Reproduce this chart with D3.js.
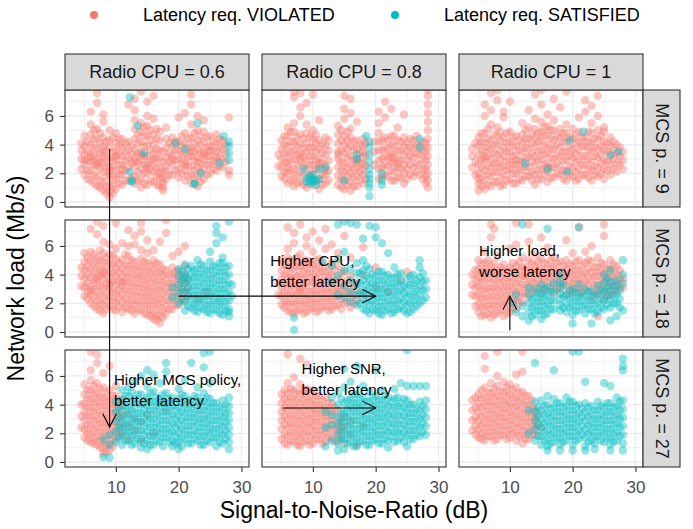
<!DOCTYPE html>
<html>
<head>
<meta charset="utf-8">
<script src="https://cdn.jsdelivr.net/npm/d3@7"></script>
<style>
  body { margin: 0; background: #fff; }
  text { font-family: "Liberation Sans", Arial, sans-serif; }
</style>
</head>
<body>
<script>
// facet levels and labels
var cpuLevels = [0.6, 0.8, 1];
var mcsLevels = [9, 18, 27];
var classNames = ['Latency req. VIOLATED', 'Latency req. SATISFIED'];
var classColors = ['#F8766D', '#00BFC4'];
var xTicks = [10, 20, 30], xMinor = [5, 15, 25];
var yTicks = [0, 2, 4, 6], yMinor = [1, 3, 5, 7];

// points, grouped as [SNR, [loads at that SNR]]
var violated_cpu06_mcs9 = [
  [4.5, [2.3, 3.0, 3.6, 4.1]], [5, [1.9, 2.6, 3.3, 3.9, 4.6, 2.9]],
  [6, [1.5, 2.2, 2.8, 3.4, 4.0, 4.7, 5.4, 6.3, 3.1]], [7, [1.1, 1.8, 2.5, 3.0, 3.7, 4.4, 5.1, 6.9, 7.6, 2.7]],
  [8, [0.8, 1.4, 2.1, 2.7, 3.2, 3.9, 4.5, 5.6, 6.1, 3.5]], [9, [0.3, 0.7, 1.2, 1.9, 2.5, 3.1, 3.8, 4.3, 5.0, 2.2]],
  [10, [0.9, 1.6, 2.2, 2.9, 3.5, 4.1, 4.8, 3.2]], [11, [1.2, 1.9, 2.6, 3.2, 3.8, 4.4, 2.3]],
  [12, [1.5, 2.4, 3.0, 3.6, 4.2, 6.8]], [13, [1.3, 1.8, 2.5, 3.1, 3.7, 4.4, 5.1, 5.7, 6.4, 7.2, 2.8]],
  [14, [1.0, 1.6, 2.3, 2.9, 3.5, 4.2, 4.9, 5.5, 7.7, 3.3]], [15, [1.2, 2.0, 2.6, 3.2, 3.9, 4.6, 5.3, 6.0, 7.0, 2.4]],
  [16, [1.4, 2.1, 2.7, 3.4, 4.0, 4.7, 5.8, 7.4, 3.0]], [17, [1.1, 1.7, 2.4, 3.0, 3.6, 4.3, 4.9, 2.0]],
  [17.5, [0.8, 1.0, 1.3, 1.6, 2.1, 2.8, 3.5]], [18, [1.6, 2.5, 3.1, 3.8, 4.4, 5.2, 2.2]],
  [19, [1.9, 2.6, 3.3, 3.9, 4.5, 3.0]], [20, [1.7, 2.3, 3.0, 3.6, 4.2, 5.9]],
  [21, [1.5, 2.2, 2.8, 3.4, 4.1, 4.8, 6.2, 2.6]], [22, [1.3, 1.9, 2.5, 3.2, 3.8, 4.5, 5.4, 6.8, 7.5, 3.5]],
  [23, [1.1, 1.8, 2.4, 3.1, 3.7, 4.3, 5.0, 6.0, 2.8]], [24, [1.6, 2.3, 2.9, 3.5, 4.2, 4.9, 5.7, 3.3]],
  [25, [2.0, 2.6, 3.2, 3.9, 4.6, 3.6]], [26, [2.2, 2.8, 3.5, 4.1, 4.7, 3.1]],
  [27, [2.4, 3.0, 3.7, 4.3]], [28, [1.9, 2.2, 5.9]],
  [5.5, [2.2, 2.9, 3.5, 4.2, 1.6]], [6.5, [1.3, 1.9, 2.6, 3.2, 3.8, 4.4, 5.0]], [7.5, [1.0, 1.5, 2.3, 2.8, 3.4, 4.1, 4.8]],
  [8.5, [0.6, 1.1, 1.8, 2.4, 3.0, 3.6, 4.2]], [9.5, [0.6, 1.1, 1.7, 2.4, 2.9, 3.5, 4.5]], [10.5, [1.3, 1.9, 2.6, 3.3, 3.9, 4.4]],
  [11.5, [1.5, 2.2, 2.9, 3.5, 4.1]], [12.5, [1.7, 2.7, 3.3, 3.9]], [13.5, [1.5, 2.1, 2.8, 3.4, 4.1, 4.7]],
  [14.5, [1.3, 2.0, 2.6, 3.2, 3.9, 4.6, 5.2]], [15.5, [1.5, 2.3, 2.9, 3.6, 4.3, 5.0]], [16.5, [1.2, 1.8, 2.4, 3.1, 3.7, 4.4, 5.1]],
  [18.5, [1.9, 2.8, 3.4, 4.1]], [19.5, [2.2, 2.9, 3.6, 4.2]], [20.5, [2.0, 2.7, 3.3, 3.9, 4.6]],
  [21.5, [1.8, 2.5, 3.1, 3.7, 4.4]], [22.5, [1.6, 2.2, 2.9, 3.5, 4.1, 4.8]], [23.5, [1.4, 2.1, 2.7, 3.4, 4.0, 4.6]],
  [24.5, [1.9, 2.6, 3.2, 3.8, 4.5]], [25.5, [2.3, 2.9, 3.6, 4.2]], [26.5, [2.5, 3.2, 3.8, 4.4]], [27.5, [2.8, 3.4, 4.0]]
];
var satisfied_cpu06_mcs9 = [
  [12.2, [7.3, 2.1]], [12.5, [1.5, 1.4]], [13.5, [5.3]], [14.5, [3.4]], [19.5, [4.1]],
  [21, [3.7]], [22.5, [1.3, 1.25]], [23, [5.5]], [23.5, [2.0]], [26.5, [2.7]],
  [27.2, [4.6]], [28, [4.2, 3.9, 3.4, 2.9]]
];
var violated_cpu08_mcs9 = [
  [4.5, [2.5, 3.3]], [5, [1.8, 2.4, 3.0, 3.7, 4.3]], [6, [1.3, 2.0, 2.7, 3.3, 3.9, 4.6, 5.2, 2.4]],
  [7, [1.1, 1.7, 2.3, 3.0, 3.6, 4.2, 4.9, 5.5, 7.3, 7.7]], [8, [1.4, 2.1, 2.8, 3.4, 4.0, 4.7, 6.0, 6.6, 7.6, 3.1]],
  [9, [1.0, 2.3, 2.9, 3.5, 4.1, 4.8, 5.4, 6.9]], [10, [1.2, 2.0, 2.6, 3.2, 3.8, 4.4, 5.0, 7.5]],
  [11, [0.9, 1.6, 2.4, 3.0, 3.7, 4.3, 5.7, 2.7]], [12, [1.3, 1.9, 2.6, 3.3, 3.9, 4.5, 2.2]],
  [14, [1.2, 1.8, 2.4, 3.0, 3.5, 4.1, 4.7, 5.3, 3.3]], [15, [0.9, 1.5, 2.1, 2.7, 3.4, 4.0, 4.6, 5.8, 6.5, 7.4]],
  [16, [0.8, 1.4, 2.0, 2.6, 3.2, 3.9, 4.5, 5.1, 6.2, 7.2]], [17, [1.1, 1.8, 2.4, 3.0, 3.7, 4.3, 5.6, 2.8]],
  [18, [1.3, 1.9, 2.3, 2.7, 3.1, 3.5, 3.9, 4.4]], [19.8, [2.6, 3.5, 4.2]], [20.5, [1.6, 2.3, 2.9, 3.6, 4.2, 4.8, 5.5, 6.3]],
  [21.5, [1.9, 2.6, 3.2, 3.8, 4.5, 5.9, 7.0]], [22.5, [1.5, 2.2, 2.8, 3.4, 4.0, 4.6, 6.5, 3.1]],
  [23.5, [1.7, 2.4, 3.0, 3.6, 4.3, 5.2, 2.7]], [24.5, [1.3, 2.0, 2.6, 3.3, 3.9, 4.5, 6.1]],
  [25.5, [1.9, 2.6, 3.2, 3.8, 4.4]], [26.5, [2.1, 2.7, 3.4, 4.0, 4.6]], [27.5, [1.6, 2.3, 3.0, 3.6, 4.2]],
  [28.3, [1.0, 1.5, 2.0, 2.6, 3.2, 3.8, 4.4, 5.0, 5.6, 6.2, 6.8, 7.4, 7.8]],
  [5.5, [1.6, 2.1, 2.8, 3.4, 4.0, 4.6]], [6.5, [1.5, 2.2, 2.9, 3.5, 4.2, 4.9]], [7.5, [1.3, 1.9, 2.6, 3.3, 3.9, 4.5]],
  [8.5, [1.2, 1.8, 2.5, 3.1, 3.7, 4.4]], [9.5, [1.9, 2.6, 3.2, 3.8, 4.5]], [10.5, [1.5, 2.3, 2.9, 3.5, 4.1, 4.7]],
  [11.5, [1.2, 1.9, 2.7, 3.4, 4.0]], [12.5, [1.5, 2.2, 2.9, 3.6, 4.3]], [14.5, [1.0, 1.6, 2.2, 2.8, 3.6, 4.3, 5.0]],
  [15.5, [1.2, 1.8, 2.4, 3.1, 3.7, 4.3, 4.9]], [16.5, [1.1, 1.7, 2.3, 2.9, 3.6, 4.2]], [17.5, [1.5, 2.1, 2.7, 3.4, 4.0]],
  [18.4, [1.6, 2.5, 3.3, 4.1]], [21, [1.7, 2.4, 3.0, 3.6, 4.3]],
  [22, [1.8, 2.5, 3.1, 3.7, 4.3]], [23, [1.5, 2.1, 2.7, 3.3, 3.9, 4.6]], [24, [1.7, 2.3, 2.9, 3.6, 4.2]],
  [25, [1.6, 2.3, 2.9, 3.5, 4.1]], [26, [1.8, 2.4, 3.1, 3.7, 4.3]], [27, [1.9, 2.6, 3.3, 3.9]],
  [28, [1.3, 1.8, 2.3, 2.9, 3.5, 4.1]]
];
var satisfied_cpu08_mcs9 = [
  [8.5, [2.3]], [9, [1.4, 1.7]], [9.5, [1.5, 1.3, 1.8]], [10, [1.6, 1.4, 1.9]], [10.5, [1.5, 1.2]],
  [11, [2.3, 1.6]], [12, [2.4]], [15, [1.5]], [17, [3.3, 3.0]], [18.5, [4.6]],
  [19, [0.4, 1.0, 1.3, 1.6, 1.9, 2.3, 2.8, 3.3, 3.8, 4.2]], [21, [1.2, 1.5, 2.0]], [27, [3.8, 4.4]]
];
var violated_cpu1_mcs9 = [
  [4, [2.4, 3.2, 3.7]], [4.5, [1.9, 2.8, 4.1]], [5, [0.8, 1.3, 2.0, 2.6, 3.3, 3.9, 4.5, 1.6]],
  [6, [0.9, 1.5, 2.2, 2.9, 3.5, 4.1, 4.8, 6.0, 6.8, 3.1]], [7, [1.1, 1.8, 2.4, 3.0, 3.7, 4.3, 5.4, 6.4, 7.6]],
  [8, [1.4, 2.1, 2.7, 3.3, 4.0, 4.6, 5.2, 7.1, 7.8]], [9, [1.2, 1.9, 2.5, 3.2, 3.8, 4.5, 5.9, 6.3]],
  [10, [1.6, 2.3, 2.9, 3.5, 4.2, 4.9, 7.0]], [11, [1.3, 2.0, 2.6, 3.3, 3.9, 4.6, 2.9]],
  [12, [1.5, 2.2, 2.8, 3.5, 4.1, 4.7, 5.5]], [13, [1.8, 2.4, 3.1, 3.7, 4.4, 5.2, 6.4]],
  [14, [1.2, 1.9, 2.6, 3.2, 3.9, 4.5, 5.1, 5.8, 7.5]], [15, [1.6, 2.3, 3.0, 3.6, 4.3, 4.9, 5.6, 6.8, 7.8]],
  [16, [1.4, 2.1, 2.7, 3.4, 4.0, 4.7, 5.3, 6.1, 2.4]], [17, [1.7, 2.4, 3.0, 3.7, 4.3, 5.0, 5.7, 7.2]],
  [18, [1.9, 2.5, 3.2, 3.8, 4.5, 5.1, 6.6]], [19, [1.5, 2.2, 2.9, 3.5, 4.2, 4.8, 5.4, 7.7]],
  [20, [1.8, 2.4, 3.1, 3.7, 4.4, 5.1]], [21, [1.6, 2.3, 2.9, 3.6, 4.2, 4.9, 5.9]],
  [22, [1.9, 2.6, 3.2, 3.9, 4.5, 6.3, 7.1]], [23, [1.5, 2.2, 2.8, 3.5, 4.1, 4.8, 5.5, 6.7]],
  [24, [1.8, 2.4, 3.1, 3.7, 4.4, 5.0, 6.0, 7.4]], [25, [1.6, 2.3, 2.9, 3.6, 4.2, 4.9, 5.2]],
  [26, [1.9, 2.6, 3.2, 3.9, 4.5]], [27, [2.1, 2.7, 3.4, 4.0]], [28, [2.3, 2.9, 3.5]],
  [5.5, [1.1, 1.7, 2.4, 3.0, 3.6, 4.2, 4.8]], [6.5, [1.2, 1.9, 2.5, 3.2, 3.8, 4.4, 5.1]], [7.5, [1.4, 2.1, 2.7, 3.4, 4.0, 4.7]],
  [8.5, [1.1, 1.7, 2.4, 3.0, 3.6, 4.3, 4.9]], [9.5, [1.5, 2.2, 2.8, 3.5, 4.1, 4.8]], [10.5, [1.3, 2.0, 2.6, 3.2, 3.9, 4.5]],
  [11.5, [1.6, 2.3, 2.9, 3.6, 4.3]], [12.5, [1.8, 2.5, 3.1, 3.8, 4.4, 5.0]], [13.5, [1.5, 2.1, 2.8, 3.4, 4.1, 4.7]],
  [14.5, [1.6, 2.2, 2.9, 3.5, 4.2, 4.8]], [15.5, [1.9, 2.6, 3.3, 3.9, 4.6, 5.2]], [16.5, [1.7, 2.4, 3.1, 3.7, 4.4, 5.0]],
  [17.5, [2.0, 2.7, 3.3, 4.0, 4.6]], [18.5, [1.6, 2.2, 2.9, 3.5, 4.2, 4.8]], [19.5, [1.9, 2.5, 3.2, 3.8, 4.5]],
  [20.5, [1.5, 2.1, 2.8, 3.4, 4.1, 4.7]], [21.5, [1.9, 2.6, 3.2, 3.9, 4.5]], [22.5, [1.7, 2.3, 3.0, 3.6, 4.2, 4.9]],
  [23.5, [1.9, 2.5, 3.2, 3.8, 4.4]], [24.5, [2.0, 2.7, 3.3, 3.9, 4.6]], [25.5, [2.2, 2.8, 3.5, 4.1]],
  [26.5, [2.3, 3.0, 3.6, 4.2]], [27.5, [2.6, 3.2, 3.8]]
];
var satisfied_cpu1_mcs9 = [
  [12.4, [2.7]], [16, [2.3]], [19.1, [2.1]], [19.5, [4.3]], [21.7, [4.9]], [26, [3.3]], [27.3, [3.5]]
];
var violated_cpu06_mcs18 = [
  [4.5, [3.2, 3.9, 4.5]], [5, [2.5, 3.1, 3.7, 4.3, 4.9, 5.5]], [6, [2.0, 2.6, 3.2, 3.8, 4.4, 5.0, 5.6, 7.2, 2.9]],
  [7, [1.6, 2.2, 2.8, 3.4, 4.0, 4.6, 5.2, 6.8, 7.7, 3.7]], [8, [1.3, 1.9, 2.5, 3.1, 3.7, 4.3, 4.9, 5.5, 6.3, 7.4, 4.1]],
  [9, [1.8, 2.4, 3.0, 3.6, 4.2, 4.8, 5.4, 6.1, 3.3]], [10, [1.5, 2.1, 2.7, 3.3, 3.9, 4.5, 5.1, 5.8, 7.6]],
  [11, [1.4, 2.0, 2.6, 3.2, 3.8, 4.4, 5.0, 6.2, 3.5]], [12, [1.6, 2.2, 2.8, 3.4, 4.0, 4.6, 5.3, 6.0, 7.1]],
  [13, [1.3, 1.9, 2.5, 3.1, 3.7, 4.3, 4.9, 6.1, 6.7]], [14, [1.5, 2.1, 2.7, 3.3, 3.9, 4.5, 5.1, 5.7, 7.0, 7.6]],
  [15, [1.2, 1.8, 2.4, 3.0, 3.6, 4.2, 4.8, 5.5, 6.4]], [16, [0.9, 1.4, 2.0, 2.6, 3.2, 3.8, 4.4, 5.0, 5.7]],
  [17, [0.6, 1.1, 1.7, 2.3, 2.9, 3.5, 4.1, 4.7, 6.3]], [18, [1.3, 1.9, 2.5, 3.1, 3.7, 4.3, 6.9, 7.8]],
  [19, [1.6, 2.2, 2.8, 3.4, 4.0, 4.5, 5.3]], [20, [1.9, 2.5, 3.1, 3.7, 4.3, 5.6]],
  [21, [2.2, 2.8, 3.4, 4.0, 4.6, 6.0]], [21.5, [2.5, 3.0, 3.6]], [23, [2.3]], [24.5, [2.8]],
  [5.5, [2.3, 2.8, 3.4, 4.0, 4.6, 5.2]], [6.5, [1.8, 2.4, 3.0, 3.6, 4.2, 4.8, 5.4]], [7.5, [1.5, 2.0, 2.6, 3.2, 3.9, 4.4, 5.0, 5.7]],
  [8.5, [1.6, 2.2, 2.8, 3.4, 4.0, 4.6, 5.2]], [9.5, [1.6, 2.2, 2.8, 3.5, 4.1, 4.7, 5.3]], [10.5, [1.8, 2.4, 3.0, 3.6, 4.2, 4.8]],
  [11.5, [1.7, 2.3, 2.9, 3.5, 4.1, 4.7, 5.4]], [12.5, [1.5, 2.0, 2.6, 3.2, 3.8, 4.4, 5.0]], [13.5, [1.6, 2.2, 2.8, 3.4, 4.0, 4.6]],
  [14.5, [1.3, 1.9, 2.5, 3.1, 3.7, 4.3, 4.9]], [15.5, [1.1, 1.6, 2.2, 2.8, 3.4, 4.0, 4.6]], [16.5, [0.8, 1.2, 1.9, 2.4, 3.0, 3.6, 4.2, 4.8]],
  [17.5, [1.0, 1.5, 2.1, 2.7, 3.3, 3.9, 4.4]], [18.5, [1.6, 2.2, 2.8, 3.4, 4.0]], [19.5, [1.9, 2.5, 3.1, 3.7, 4.2]],
  [20.5, [2.2, 2.8, 3.4, 3.9]]
];
var satisfied_cpu06_mcs18 = [
  [19, [3.1, 2.4]], [20, [2.0, 2.7, 3.3, 3.9, 4.4]], [21, [1.5, 2.1, 2.8, 3.4, 4.0, 4.7, 3.8]],
  [22, [1.7, 2.3, 2.9, 3.5, 4.1, 4.6]], [23, [1.4, 2.0, 2.6, 3.2, 3.8, 4.4, 5.0]],
  [24, [1.6, 2.2, 2.8, 3.4, 4.0, 4.6]], [25, [1.3, 1.9, 2.5, 3.1, 3.7, 4.3, 4.9, 5.6]],
  [26, [1.5, 2.1, 2.7, 3.3, 3.9, 4.5, 6.2, 7.4, 6.9]], [27, [1.2, 1.8, 2.4, 3.0, 3.6, 4.2, 4.8, 5.2, 6.6]],
  [28, [1.1, 1.6, 2.2, 2.8, 3.4, 4.0, 4.6, 1.4, 7.7]], [28.5, [2.5, 3.3]],
  [20.5, [2.3, 3.0, 3.6, 4.2]], [21.5, [1.8, 2.5, 3.1, 3.7, 4.4]], [22.5, [1.5, 2.0, 2.6, 3.2, 3.8, 4.3]],
  [23.5, [1.7, 2.3, 2.9, 3.5, 4.1, 4.7]], [24.5, [1.4, 1.9, 2.5, 3.1, 3.7, 4.3]], [25.5, [1.6, 2.2, 2.8, 3.4, 4.0, 4.6]],
  [26.5, [1.3, 1.9, 2.4, 3.0, 3.6, 4.2, 4.8]], [27.5, [1.5, 2.1, 2.7, 3.3, 3.9, 4.5]]
];
var violated_cpu08_mcs18 = [
  [4.5, [2.6, 3.4]], [5, [1.9, 2.5, 3.1, 3.7, 4.3, 5.0]], [6, [1.5, 2.1, 2.7, 3.3, 3.9, 4.5, 5.2, 5.8, 7.3]],
  [7, [1.3, 1.9, 2.5, 3.1, 3.7, 4.3, 4.9, 6.2, 6.9]], [8, [1.6, 2.2, 2.8, 3.4, 4.0, 4.6, 5.4, 7.5, 3.0]],
  [9, [1.4, 2.0, 2.6, 3.2, 3.8, 4.4, 5.0, 6.0, 6.6]], [10, [1.7, 2.3, 2.9, 3.5, 4.1, 4.7, 5.6, 7.0]],
  [11, [1.5, 2.1, 2.7, 3.3, 3.9, 4.5, 5.1, 6.4]], [12, [1.8, 2.4, 3.0, 3.6, 4.2, 5.8, 7.2]],
  [13, [1.6, 2.2, 2.8, 3.4, 4.0, 4.8, 6.1]], [14, [1.9, 2.5, 3.1, 3.7, 4.6, 5.5]],
  [15, [2.0, 2.7, 3.3, 4.2, 6.7]], [16, [1.7, 2.4, 3.0, 3.9, 5.2]], [17, [2.2, 2.9, 3.5]],
  [18, [2.6, 4.0, 5.9]], [20, [3.1, 4.5]], [22, [2.8]], [24, [3.6]], [25, [4.2]],
  [5.5, [1.7, 2.2, 2.8, 3.4, 4.0, 4.7]], [6.5, [1.4, 2.0, 2.6, 3.2, 3.8, 4.4, 5.0]], [7.5, [1.5, 2.1, 2.7, 3.3, 3.9, 4.6, 5.2]],
  [8.5, [1.3, 1.9, 2.5, 3.1, 3.7, 4.3, 4.9]], [9.5, [1.6, 2.2, 2.8, 3.5, 4.1, 4.7]], [10.5, [1.4, 2.0, 2.6, 3.2, 3.8, 4.4, 5.0]],
  [11.5, [1.7, 2.3, 2.9, 3.5, 4.2, 4.8]], [12.5, [1.5, 2.1, 2.7, 3.3, 3.9, 4.5]], [13.5, [1.8, 2.4, 3.0, 3.6, 4.3]],
  [14.5, [1.6, 2.3, 2.9, 3.5, 4.1]], [15.5, [2.1, 2.8, 3.6]], [16.5, [2.0, 2.6, 3.3]]
];
var satisfied_cpu08_mcs18 = [
  [7, [0.15, 1.0]], [11.5, [4.9]], [13, [3.5, 4.6]], [14, [2.6, 3.9, 5.1, 7.5]], [15, [2.4, 3.2, 4.3, 5.6, 7.7]],
  [16, [2.1, 2.8, 3.6, 4.4, 7.6]], [17, [1.9, 2.6, 3.3, 4.1, 4.8, 7.5]], [18, [1.6, 2.3, 2.9, 3.6, 4.3, 5.0, 6.5]],
  [19, [1.3, 1.9, 2.5, 3.1, 3.7, 4.4, 7.4]], [20, [1.5, 2.1, 2.7, 3.3, 3.9, 6.6, 7.3]],
  [21, [1.2, 1.8, 2.4, 3.0, 3.6, 4.2, 6.2]], [22, [1.6, 2.2, 2.8, 3.4, 4.0, 5.5]],
  [23, [1.4, 2.0, 2.6, 3.2, 3.8, 4.5]], [24, [1.7, 2.3, 2.9, 3.5, 4.1]], [25, [1.3, 1.9, 2.5, 3.1, 3.7]],
  [26, [1.6, 2.2, 2.8, 3.4, 4.0]], [27, [2.0, 2.6, 3.2, 3.8, 4.5, 5.0]], [28, [2.4, 3.0, 3.6]],
  [17.5, [2.0, 2.7, 3.4, 4.1]], [18.5, [1.5, 2.1, 2.7, 3.3, 3.9, 4.6]], [19.5, [1.6, 2.2, 2.8, 3.4, 4.0]],
  [20.5, [1.3, 1.8, 2.4, 3.0, 3.6, 4.2]], [21.5, [1.5, 2.1, 2.7, 3.3, 3.9]], [22.5, [1.3, 1.9, 2.5, 3.1, 3.7]],
  [23.5, [1.6, 2.2, 2.8, 3.4, 4.0]], [24.5, [1.5, 2.1, 2.7, 3.2]], [25.5, [1.4, 2.0, 2.6, 3.3, 3.9]],
  [26.5, [1.8, 2.4, 3.0, 3.6]], [27.5, [2.2, 2.9, 3.5, 4.1]]
];
var violated_cpu1_mcs18 = [
  [4, [2.6, 3.3, 4.0]], [5, [1.4, 2.0, 2.6, 3.2, 3.8, 4.4, 5.0]], [6, [1.2, 1.8, 2.4, 3.0, 3.6, 4.2, 4.8, 5.6]],
  [7, [1.0, 1.6, 2.2, 2.8, 3.4, 4.0, 4.6, 6.6, 7.5]], [7.5, [7.2]], [8, [1.3, 1.9, 2.5, 3.1, 3.7, 4.3, 5.3]],
  [9, [1.1, 1.7, 2.3, 2.9, 3.5, 4.1, 4.7]], [10, [1.4, 2.0, 2.6, 3.2, 3.8, 4.5, 5.8]],
  [11, [1.6, 2.2, 2.8, 3.4, 4.0, 4.6, 7.6, 6.1]], [12, [2.1, 2.7, 3.3, 3.9, 4.5, 5.2]],
  [13, [2.5, 3.1, 3.7, 4.3, 5.0, 7.5, 6.3]], [14, [2.8, 3.4, 4.0, 4.6, 5.4]], [15, [2.6, 3.2, 3.8, 4.4, 5.1, 6.6]],
  [16, [2.9, 3.5, 4.1, 4.7, 5.9]], [17, [2.7, 3.3, 3.9, 4.5, 5.2]], [18, [3.0, 3.6, 4.2, 4.9]],
  [19, [2.6, 3.2, 3.8, 4.4, 5.0, 6.4]], [20, [2.8, 3.4, 4.0, 4.6, 5.5]], [21, [2.5, 3.1, 3.7, 4.3, 5.0, 7.3]],
  [22, [2.9, 3.5, 4.1, 4.8, 5.6]], [23, [2.4, 3.0, 3.6, 4.2, 4.9, 6.0]], [24, [1.1, 2.7, 3.3, 3.9, 4.5, 5.2]],
  [25, [2.3, 2.9, 3.5, 4.1, 4.7, 7.5, 6.7]], [26, [2.6, 3.2, 3.8, 4.4, 5.0]], [27, [2.8, 3.4, 4.0, 4.6]],
  [28, [3.1, 3.7]],
  [4.5, [1.8, 2.5, 3.1, 3.7, 4.3]], [5.5, [1.1, 1.7, 2.3, 2.9, 3.5, 4.1, 4.7]], [6.5, [1.3, 1.9, 2.5, 3.1, 3.8, 4.4, 5.0]],
  [7.5, [1.2, 1.8, 2.4, 3.0, 3.6, 4.2, 4.8]], [8.5, [1.5, 2.1, 2.7, 3.3, 3.9, 4.5]], [9.5, [1.3, 1.9, 2.5, 3.1, 3.7, 4.3]],
  [10.5, [1.7, 2.3, 2.9, 3.5, 4.2, 4.8]], [11.5, [2.0, 2.5, 3.1, 3.7, 4.3, 4.9]], [12.5, [2.7, 3.3, 3.9, 4.5]],
  [13.5, [2.9, 3.5, 4.2, 4.8]], [14.5, [3.1, 3.7, 4.3, 4.9]], [15.5, [3.0, 3.6, 4.2, 4.8]],
  [16.5, [3.2, 3.8, 4.4, 5.0]], [17.5, [3.0, 3.6, 4.2, 4.8]], [18.5, [3.4, 4.0, 4.6]],
  [19.5, [2.9, 3.5, 4.1, 4.7]], [20.5, [3.1, 3.7, 4.3, 4.9]], [21.5, [2.8, 3.4, 4.0, 4.6]],
  [22.5, [3.2, 3.8, 4.4, 5.0]], [23.5, [2.7, 3.3, 3.9, 4.5]], [24.5, [3.0, 3.6, 4.2, 4.8]],
  [25.5, [2.6, 3.2, 3.8, 4.4]], [26.5, [2.9, 3.5, 4.1, 4.7]], [27.5, [3.1, 3.7, 4.3]]
];
var satisfied_cpu1_mcs18 = [
  [10.5, [2.0]], [11, [2.6, 1.4]], [12, [1.1, 1.8, 7.5]], [13, [0.8, 1.4, 2.0, 2.6, 3.1]], [14, [1.2, 1.8, 2.4, 3.0]],
  [15, [0.9, 1.5, 2.1, 2.7, 3.3]], [16, [1.3, 1.9, 2.5, 3.1, 7.2]], [17, [1.6, 2.2, 2.8, 3.4]],
  [18, [1.5, 1.9, 2.3, 2.7, 3.1, 3.5, 4.0]], [18.5, [1.7, 2.5, 3.3]], [19, [1.4, 2.0, 2.6]],
  [20, [1.2, 1.8, 2.4, 3.0, 0.6]], [21, [1.5, 2.1, 2.7, 3.3, 7.3]], [22, [1.3, 1.9, 2.5, 3.0]],
  [23, [1.6, 2.2, 2.8, 0.6]], [24, [1.4, 2.0, 2.6, 3.2]], [25, [1.6, 2.2, 2.8, 3.4, 4.0]],
  [25.5, [1.9, 2.5, 3.1, 3.7]], [26, [1.7, 2.3, 2.9, 3.5, 4.3, 0.8]], [27, [2.0, 2.6, 3.2, 3.6, 1.1]],
  [28, [1.5, 4.0, 5.0, 3.4]],
  [13.5, [1.1, 1.7, 2.3]], [14.5, [1.5, 2.1, 2.7]], [15.5, [1.2, 1.8, 2.4, 3.0]], [16.5, [1.6, 2.2, 2.8]],
  [19.5, [1.7, 2.3, 2.9]], [20.5, [1.5, 2.1, 2.7]], [21.5, [1.8, 2.4]], [22.5, [1.6, 2.2, 2.8]],
  [23.5, [1.3, 1.9, 2.5]], [24.5, [1.7, 2.3, 2.9]], [26.5, [2.0, 2.6, 3.2]], [27.5, [1.7, 2.3, 2.9]]
];
var violated_cpu06_mcs27 = [
  [4.5, [2.4, 3.2, 4.0]], [5, [1.7, 2.3, 2.9, 3.5, 4.1, 4.7, 5.4]], [6, [1.4, 2.0, 2.6, 3.2, 3.8, 4.4, 5.0, 5.7, 7.7, 6.4]],
  [7, [1.2, 1.8, 2.4, 3.0, 3.6, 4.2, 4.8, 5.5, 6.9, 7.5]], [8, [0.6, 1.0, 1.5, 2.1, 2.7, 3.3, 3.9, 4.5, 5.2, 6.2]],
  [9, [0.8, 1.3, 1.9, 2.5, 3.1, 3.7, 4.3, 5.0, 6.7]], [10, [1.6, 2.2, 2.8, 3.4, 4.0, 4.6, 5.3]],
  [11, [2.0, 2.6, 3.2, 3.9, 4.4]], [12, [1.6, 2.5, 3.4]], [13, [2.2, 3.0]], [14, [1.4, 2.8]],
  [15, [3.3]], [16, [2.0]], [18, [3.6]],
  [5.5, [1.5, 2.0, 2.6, 3.2, 3.8, 4.4, 5.0]], [6.5, [1.3, 1.7, 2.3, 2.9, 3.5, 4.1, 4.7, 5.3]],
  [7.5, [1.0, 1.5, 2.1, 2.7, 3.3, 3.9, 4.5, 5.1]], [8.5, [0.7, 1.2, 1.8, 2.4, 3.0, 3.6, 4.2, 4.8]],
  [9.5, [1.1, 1.6, 2.2, 2.8, 3.4, 4.0, 4.6]], [10.5, [1.9, 2.5, 3.1, 3.7, 4.3]]
];
var satisfied_cpu06_mcs27 = [
  [8, [0.35, 1.6]], [9, [0.3, 1.2, 1.9]], [10, [1.4, 2.1, 2.8, 3.5, 4.2]], [11, [1.2, 1.8, 2.4, 3.0, 3.6, 4.3, 5.0]],
  [12, [1.5, 2.1, 2.7, 3.3, 3.9, 4.6, 5.2]], [13, [1.3, 1.9, 2.5, 3.1, 3.7, 4.4, 5.6]],
  [14, [1.0, 1.6, 2.2, 2.8, 3.4, 4.0, 4.7, 6.0]], [15, [0.9, 1.5, 2.1, 2.7, 3.3, 3.9, 4.5, 5.3, 6.4]],
  [16, [1.2, 1.8, 2.4, 3.0, 3.6, 4.2, 4.9, 6.1]], [17, [1.4, 2.0, 2.6, 3.2, 3.8, 4.4, 5.5]],
  [18, [1.7, 2.3, 2.9, 3.5, 4.1, 4.8, 6.3, 6.9]], [19, [1.1, 1.5, 2.1, 2.7, 3.3, 3.9, 4.5]],
  [20, [0.9, 1.4, 2.0, 2.6, 3.2, 3.8, 4.4, 5.1]], [21, [1.6, 2.2, 2.8, 3.4, 4.0, 4.6, 5.7]],
  [22, [1.3, 1.9, 2.5, 3.1, 3.7, 4.3, 6.9]], [23, [1.5, 2.1, 2.7, 3.3, 3.9, 4.5, 5.2]],
  [24, [1.2, 1.8, 2.4, 3.0, 3.6, 4.2, 4.8, 7.6, 6.6]], [25, [1.4, 2.0, 2.6, 3.2, 3.8, 4.4, 5.5, 7.7]],
  [26, [1.1, 1.7, 2.3, 2.9, 3.5, 4.1]], [27, [1.3, 1.9, 2.5, 3.1, 3.7, 4.3]],
  [28, [0.9, 1.4, 1.9, 2.4, 2.9, 3.4, 3.9, 4.5]],
  [10.5, [1.7, 2.4, 3.1, 3.8]], [11.5, [1.5, 2.1, 2.7, 3.3, 3.9, 4.6]], [12.5, [1.2, 1.8, 2.4, 3.0, 3.6, 4.2, 4.9]],
  [13.5, [1.6, 2.2, 2.8, 3.4, 4.1, 4.7]], [14.5, [1.3, 1.9, 2.5, 3.1, 3.7, 4.3]], [15.5, [1.2, 1.8, 2.4, 3.0, 3.6, 4.2, 4.8]],
  [16.5, [1.5, 2.1, 2.7, 3.3, 3.9, 4.5]], [17.5, [1.1, 1.7, 2.3, 2.9, 3.5, 4.1, 4.7]], [18.5, [1.4, 2.0, 2.6, 3.2, 3.8, 4.4]],
  [19.5, [1.3, 1.8, 2.4, 3.0, 3.6, 4.2]], [20.5, [1.1, 1.7, 2.3, 2.9, 3.5, 4.1, 4.7]], [21.5, [1.3, 1.9, 2.5, 3.1, 3.7, 4.3]],
  [22.5, [1.6, 2.2, 2.8, 3.4, 4.0, 4.6]], [23.5, [1.2, 1.8, 2.4, 3.0, 3.6, 4.2]], [24.5, [1.5, 2.1, 2.7, 3.3, 3.9, 4.5]],
  [25.5, [1.7, 2.3, 2.9, 3.5, 4.1]], [26.5, [1.4, 2.0, 2.6, 3.2, 3.8]], [27.5, [1.6, 2.2, 2.8, 3.4, 4.0]]
];
var violated_cpu08_mcs27 = [
  [5, [1.6, 2.3, 2.9, 3.5, 4.1, 4.7]], [6, [1.2, 1.8, 2.4, 3.0, 3.6, 4.2, 4.8, 5.5, 7.5]],
  [7, [1.4, 2.0, 2.6, 3.2, 3.8, 4.4, 5.0, 5.9]], [8, [1.1, 1.7, 2.3, 2.9, 3.5, 4.1, 4.7, 5.4, 7.2]],
  [9, [1.5, 2.1, 2.7, 3.3, 3.9, 4.5, 5.1, 6.8]], [10, [1.3, 1.9, 2.5, 3.1, 3.7, 4.3, 5.0]],
  [11, [1.6, 2.2, 2.8, 3.4, 4.0, 4.6]], [12, [1.4, 2.0, 2.6, 3.2, 3.8, 4.5]], [13, [1.7, 2.3, 2.9, 3.5, 4.1]],
  [14, [1.5, 2.1, 2.7, 3.6]], [15, [1.3, 2.4, 3.2]], [16, [1.9, 2.8]], [17, [1.2]], [18, [2.5]],
  [5.5, [1.3, 1.9, 2.6, 3.2, 3.8, 4.4, 5.0]], [6.5, [1.5, 2.1, 2.7, 3.3, 3.9, 4.5, 5.1]], [7.5, [1.2, 1.8, 2.4, 3.0, 3.6, 4.2, 4.8]],
  [8.5, [1.4, 2.0, 2.6, 3.2, 3.8, 4.4, 5.0]], [9.5, [1.2, 1.8, 2.4, 3.0, 3.6, 4.2, 4.8]], [10.5, [1.6, 2.2, 2.8, 3.4, 4.0, 4.6]],
  [11.5, [1.3, 1.9, 2.5, 3.1, 3.7, 4.3]], [12.5, [1.7, 2.3, 2.9, 3.5, 4.1]], [13.5, [1.4, 2.0, 2.6, 3.2, 3.8]],
  [14.5, [1.8, 2.4, 3.0]]
];
var satisfied_cpu08_mcs27 = [
  [12, [1.1, 2.4, 3.5]], [13, [1.5, 2.6, 3.3, 4.5]], [14, [0.8, 1.3, 1.9, 2.5, 3.1, 4.0, 4.8]],
  [15, [0.9, 1.6, 2.2, 2.8, 3.4, 4.1, 5.2, 6.5]], [16, [1.4, 2.0, 2.6, 3.2, 3.8, 4.4, 5.6]],
  [17, [1.1, 1.7, 2.3, 2.9, 3.5, 4.1, 4.7, 6.7]], [18, [1.5, 2.1, 2.7, 3.3, 3.9, 4.5, 5.3]],
  [19, [1.2, 1.8, 2.4, 3.0, 3.6, 4.2, 4.9]], [20, [1.6, 2.2, 2.8, 3.4, 4.0, 4.6, 6.4]],
  [21, [1.3, 1.9, 2.5, 3.1, 3.7, 4.3, 5.0]], [22, [1.0, 1.5, 2.1, 2.7, 3.3, 3.9, 4.5]],
  [23, [1.4, 2.0, 2.6, 3.2, 3.8, 4.4, 5.1]], [24, [1.7, 2.3, 2.9, 3.5, 4.1, 5.5]],
  [25, [1.1, 1.9, 2.5, 3.1, 3.7, 4.3, 5.3, 7.8]], [26, [1.6, 2.2, 2.8, 3.4, 4.0, 5.3]],
  [27, [1.8, 2.4, 3.0, 3.6, 4.2, 5.3]], [28, [1.9, 2.5, 3.1, 3.7, 4.3, 5.3]],
  [14.5, [1.6, 2.2, 2.8, 3.4, 4.4]], [15.5, [1.3, 1.9, 2.5, 3.1, 3.7, 4.3]], [16.5, [1.1, 1.7, 2.3, 2.9, 3.5, 4.1, 4.7]],
  [17.5, [1.4, 2.0, 2.6, 3.2, 3.8, 4.4]], [18.5, [1.2, 1.8, 2.4, 3.0, 3.6, 4.2]], [19.5, [1.5, 2.1, 2.7, 3.3, 3.9, 4.5]],
  [20.5, [1.3, 1.9, 2.5, 3.1, 3.7, 4.3]], [21.5, [1.6, 2.2, 2.8, 3.4, 4.0, 4.6]], [22.5, [1.8, 2.4, 3.0, 3.6, 4.2]],
  [23.5, [1.5, 2.1, 2.7, 3.3, 3.9, 4.5]], [24.5, [1.4, 2.0, 2.6, 3.2, 3.8, 4.4]], [25.5, [1.6, 2.2, 2.8, 3.4, 4.0]],
  [26.5, [1.9, 2.5, 3.1, 3.7]], [27.5, [2.1, 2.7, 3.3, 3.9]]
];
var violated_cpu1_mcs27 = [
  [4, [2.2, 2.9, 3.6, 4.3]], [5, [1.7, 2.3, 2.9, 3.5, 4.1, 4.7]], [6, [1.5, 2.1, 2.7, 3.3, 3.9, 4.5, 5.2, 6.5, 7.4]],
  [7, [1.8, 2.4, 3.0, 3.6, 4.2, 4.8, 5.5]], [8, [1.6, 2.2, 2.8, 3.4, 4.0, 4.6, 5.3, 6.0, 7.7]],
  [9, [1.9, 2.5, 3.1, 3.7, 4.3, 4.9, 5.6]], [10, [1.7, 2.3, 2.9, 3.5, 4.1, 4.7, 5.4]],
  [11, [1.5, 2.1, 2.7, 3.3, 3.9, 4.5, 5.2, 6.1]], [12, [1.3, 1.9, 2.5, 3.1, 3.7, 4.3, 4.9, 7.7, 6.3]],
  [13, [1.6, 2.2, 2.8, 3.4, 4.0, 4.6]], [14, [1.9, 2.5, 3.1, 3.7]], [15, [2.4]],
  [4.5, [1.9, 2.5, 3.1, 3.8, 4.5]], [5.5, [1.6, 2.0, 2.6, 3.2, 3.8, 4.4, 5.0]], [6.5, [1.8, 2.4, 3.0, 3.6, 4.2, 4.8]],
  [7.5, [1.5, 2.1, 2.7, 3.3, 3.9, 4.5, 5.1]], [8.5, [1.9, 2.5, 3.1, 3.7, 4.3, 4.9]], [9.5, [1.6, 2.2, 2.8, 3.4, 4.0, 4.6, 5.2]],
  [10.5, [2.0, 2.6, 3.2, 3.8, 4.4, 5.0]], [11.5, [1.8, 2.4, 3.0, 3.6, 4.2, 4.8]], [12.5, [1.6, 2.2, 2.8, 3.4, 4.0, 4.6]],
  [13.5, [1.9, 2.5, 3.1, 3.7, 4.3]], [14.3, [2.2, 2.8, 3.4]]
];
var satisfied_cpu1_mcs27 = [
  [13, [2.0, 3.6]], [14, [1.5, 2.3, 2.9, 3.5, 4.2, 6.9]], [15, [1.2, 1.8, 2.4, 3.0, 3.6, 4.3]],
  [16, [0.8, 1.1, 1.6, 2.2, 2.8, 3.4, 4.0, 4.6]], [17, [1.4, 2.0, 2.6, 3.2, 3.8, 4.4, 6.4]],
  [18, [0.8, 1.2, 1.7, 2.3, 2.9, 3.5, 4.1]], [19, [1.5, 2.1, 2.7, 3.3, 3.9, 4.5]],
  [20, [0.8, 1.2, 1.8, 2.4, 3.0, 3.6, 4.2, 7.7]], [21, [1.6, 2.2, 2.8, 3.4, 4.0, 7.7]],
  [22, [0.8, 1.1, 1.7, 2.3, 2.9, 3.5, 4.1, 5.6]], [23, [1.5, 2.1, 2.7, 3.3, 3.9]], [23.5, [0.9, 1.3, 1.8, 2.4, 3.0, 3.6]],
  [24, [1.8, 2.4, 3.0, 3.6, 4.2]], [25, [1.4, 2.0, 2.6, 3.2, 3.8, 5.5]],
  [26, [0.8, 1.2, 1.7, 2.3, 2.9, 3.5, 4.1, 5.3]], [27, [1.5, 2.1, 2.7, 3.3, 3.9, 4.5]],
  [28, [0.8, 1.3, 1.9, 2.5, 3.1, 3.7, 4.3, 6.4, 6.7, 7.2]],
  [14.5, [1.8, 2.6, 3.2, 3.8]], [15.5, [1.5, 2.1, 2.7, 3.3, 3.9]], [16.5, [1.3, 1.9, 2.5, 3.1, 3.7]],
  [17.5, [1.7, 2.3, 2.9, 3.5, 4.1]], [18.5, [1.4, 2.0, 2.6, 3.2, 3.8]], [19.5, [1.8, 2.4, 3.0, 3.6, 4.2]],
  [20.5, [1.5, 2.1, 2.7, 3.3, 3.9]], [21.5, [1.9, 2.5, 3.1, 3.7]], [22.5, [1.4, 2.0, 2.6, 3.2, 3.8]],
  [24.5, [1.5, 2.1, 2.7, 3.3, 3.9]], [25.5, [1.7, 2.3, 2.9, 3.5, 4.1]], [26.5, [1.4, 2.0, 2.6, 3.2, 3.8]],
  [27.5, [1.8, 2.4, 3.0, 3.6, 4.2]]
];

// rows = MCS policy, columns = radio CPU
var panelData = [
  [[violated_cpu06_mcs9, satisfied_cpu06_mcs9], [violated_cpu08_mcs9, satisfied_cpu08_mcs9], [violated_cpu1_mcs9, satisfied_cpu1_mcs9]],
  [[violated_cpu06_mcs18, satisfied_cpu06_mcs18], [violated_cpu08_mcs18, satisfied_cpu08_mcs18], [violated_cpu1_mcs18, satisfied_cpu1_mcs18]],
  [[violated_cpu06_mcs27, satisfied_cpu06_mcs27], [violated_cpu08_mcs27, satisfied_cpu08_mcs27], [violated_cpu1_mcs27, satisfied_cpu1_mcs27]]
];

// annotations, [row, col, snr, load] in the panel they sit in
var arrows = [
  { from: [0, 0, 9, 3.7], to: [2, 0, 9, 2.44] },
  { from: [1, 0, 20, 2.5], to: [1, 1, 20, 2.5] },
  { from: [1, 2, 10, 0.12], to: [1, 2, 10, 2.5] },
  { from: [2, 1, 5.2, 3.77], to: [2, 1, 20, 3.77] }
];
var notes = [
  { row: 1, col: 1, x: 3.2, y: 4.6, lines: ['Higher CPU,', 'better latency'] },
  { row: 1, col: 2, x: 5.1, y: 5.3, lines: ['Higher load,', 'worse latency'] },
  { row: 2, col: 0, x: 9.7, y: 5.35, lines: ['Higher MCS policy,', 'better latency'] },
  { row: 2, col: 1, x: 8.2, y: 6.15, lines: ['Higher SNR,', 'better latency'] }
];

var svg = d3.select('body').append('svg')
  .attr('width', 693)
  .attr('height', 529);

var panelW = 184, panelH = 117;
var colLeft = [65, 262, 459];
var rowTop = [90, 220, 350];
var stripH = 36, stripW = 37;
var frame = '#333333';

var x = d3.scaleLinear().domain([1.9, 31.2]).range([0, panelW]);
var y = d3.scaleLinear().domain([-0.35, 7.81]).range([panelH, 0]);

function expand(stripes) {
  var pts = [];
  stripes.forEach(function (s) {
    s[1].forEach(function (v) { pts.push({ snr: s[0], load: v }); });
  });
  return pts;
}

// page position of a point given as [row, col, snr, load]
function pagePos(p) {
  return [colLeft[p[1]] + x(p[2]), rowTop[p[0]] + y(p[3])];
}

mcsLevels.forEach(function (mcs, r) {
  cpuLevels.forEach(function (cpu, c) {
    var g = svg.append('g')
      .attr('transform', 'translate(' + colLeft[c] + ',' + rowTop[r] + ')');

    g.append('rect').attr('width', panelW).attr('height', panelH).attr('fill', '#fff');

    // grid, minor first
    g.selectAll('.gx-minor').data(xMinor).enter().append('line')
      .attr('x1', x).attr('x2', x).attr('y1', 0).attr('y2', panelH)
      .attr('stroke', '#EBEBEB').attr('stroke-width', 0.7);
    g.selectAll('.gy-minor').data(yMinor).enter().append('line')
      .attr('y1', y).attr('y2', y).attr('x1', 0).attr('x2', panelW)
      .attr('stroke', '#EBEBEB').attr('stroke-width', 0.7);
    g.selectAll('.gx').data(xTicks).enter().append('line')
      .attr('x1', x).attr('x2', x).attr('y1', 0).attr('y2', panelH)
      .attr('stroke', '#EBEBEB').attr('stroke-width', 1.3);
    g.selectAll('.gy').data(yTicks).enter().append('line')
      .attr('y1', y).attr('y2', y).attr('x1', 0).attr('x2', panelW)
      .attr('stroke', '#EBEBEB').attr('stroke-width', 1.3);

    var clipId = 'clip' + r + c;
    g.append('clipPath').attr('id', clipId)
      .append('rect').attr('width', panelW).attr('height', panelH);
    var pg = g.append('g').attr('clip-path', 'url(#' + clipId + ')');

    panelData[r][c].forEach(function (set, k) {
      pg.selectAll(null)
        .data(expand(set))
        .enter()
        .append('circle')
        .attr('cx', function (d) { return x(d.snr); })
        .attr('cy', function (d) { return y(d.load); })
        .attr('r', 4.2)
        .attr('fill', classColors[k])
        .attr('fill-opacity', 0.42);
    });

    g.append('rect').attr('width', panelW).attr('height', panelH)
      .attr('fill', 'none').attr('stroke', frame).attr('stroke-width', 1.1);

    // left axis on first column, bottom axis on last row
    if (c === 0) {
      var ya = svg.append('g')
        .attr('transform', 'translate(' + colLeft[0] + ',' + rowTop[r] + ')')
        .call(d3.axisLeft(y).tickValues(yTicks).tickSize(5).tickPadding(6));
      ya.select('.domain').remove();
    }
    if (r === mcsLevels.length - 1) {
      var xa = svg.append('g')
        .attr('transform', 'translate(' + colLeft[c] + ',' + (rowTop[r] + panelH) + ')')
        .call(d3.axisBottom(x).tickValues(xTicks).tickSize(5).tickPadding(9));
      xa.select('.domain').remove();
    }
  });

  // right strip
  var rs = svg.append('g').attr('transform', 'translate(' + (colLeft[2] + panelW) + ',' + rowTop[r] + ')');
  rs.append('rect').attr('width', stripW).attr('height', panelH)
    .attr('fill', '#D9D9D9').attr('stroke', frame).attr('stroke-width', 1.1);
  rs.append('text')
    .attr('transform', 'translate(' + (stripW / 2) + ',' + (panelH / 2) + ') rotate(90)')
    .attr('text-anchor', 'middle').attr('dominant-baseline', 'central')
    .attr('font-size', 18).attr('fill', '#1A1A1A')
    .text('MCS p. = ' + mcs);
});

// top strips
cpuLevels.forEach(function (cpu, c) {
  var ts = svg.append('g').attr('transform', 'translate(' + colLeft[c] + ',' + (rowTop[0] - stripH) + ')');
  ts.append('rect').attr('width', panelW).attr('height', stripH)
    .attr('fill', '#D9D9D9').attr('stroke', frame).attr('stroke-width', 1.1);
  ts.append('text')
    .attr('x', panelW / 2).attr('y', stripH / 2)
    .attr('text-anchor', 'middle').attr('dominant-baseline', 'central')
    .attr('font-size', 18).attr('fill', '#1A1A1A')
    .text('Radio CPU = ' + cpu);
});

svg.selectAll('.tick line').attr('stroke', frame).attr('stroke-width', 1.1);
svg.selectAll('.tick text').attr('fill', '#4D4D4D').attr('font-size', 17)
  .attr('font-family', '"Liberation Sans", Arial, sans-serif');

// arrows
arrows.forEach(function (a) {
  var p0 = pagePos(a.from), p1 = pagePos(a.to);
  svg.append('line')
    .attr('x1', p0[0]).attr('y1', p0[1]).attr('x2', p1[0]).attr('y2', p1[1])
    .attr('stroke', '#000').attr('stroke-width', 1.1);
  var ang = Math.atan2(p1[1] - p0[1], p1[0] - p0[0]);
  var len = 15, spread = 27 * Math.PI / 180;
  var head = [ang - spread, ang + spread].map(function (t) {
    return [p1[0] - len * Math.cos(t), p1[1] - len * Math.sin(t)];
  });
  svg.append('path')
    .attr('d', 'M' + head[0] + 'L' + p1 + 'L' + head[1])
    .attr('fill', 'none').attr('stroke', '#000').attr('stroke-width', 1.1);
});

notes.forEach(function (n) {
  var t = svg.append('text')
    .attr('x', colLeft[n.col] + x(n.x))
    .attr('y', rowTop[n.row] + y(n.y))
    .attr('font-size', 15).attr('fill', '#000');
  n.lines.forEach(function (line, i) {
    t.append('tspan').attr('x', colLeft[n.col] + x(n.x)).attr('dy', i === 0 ? 0 : 21).text(line);
  });
});

// axis titles
svg.append('text')
  .attr('x', (colLeft[0] + colLeft[2] + panelW) / 2).attr('y', 518)
  .attr('text-anchor', 'middle').attr('font-size', 23).attr('fill', '#000')
  .text('Signal-to-Noise-Ratio (dB)');
svg.append('text')
  .attr('transform', 'translate(24,' + (rowTop[0] + rowTop[2] + panelH) / 2 + ') rotate(-90)')
  .attr('text-anchor', 'middle').attr('font-size', 23).attr('fill', '#000')
  .text('Network load (Mb/s)');

// legend
var legendX = [94, 395];
classNames.forEach(function (name, k) {
  svg.append('circle').attr('cx', legendX[k]).attr('cy', 15).attr('r', 4).attr('fill', classColors[k]);
  svg.append('text')
    .attr('x', legendX[k] + 49).attr('y', 15)
    .attr('dominant-baseline', 'central').attr('font-size', 18).attr('fill', '#000')
    .text(name);
});
</script>
</body>
</html>
